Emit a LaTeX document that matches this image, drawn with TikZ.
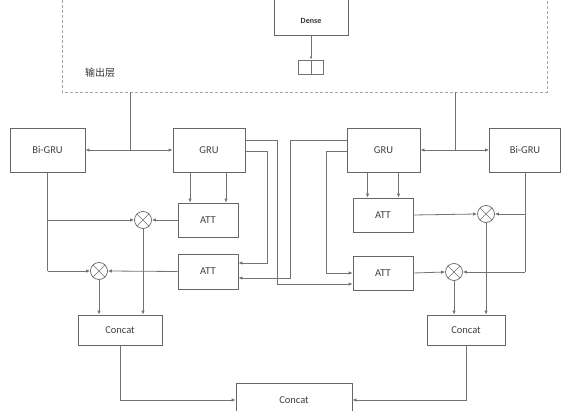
\documentclass[tikz,border=0pt]{standalone}
\usepackage{fontspec}
\setmainfont{Carlito}
\newfontfamily\cjkfont{Noto Sans CJK SC}
\usetikzlibrary{arrows.meta}
\tikzset{
  wire/.style={draw=black!55, line width=0.8pt},
  arr/.style={wire, -{Latex[length=4pt,width=3.5pt]}},
  blk/.style={draw=black!60, line width=0.8pt, fill=white, minimum width=#1, minimum height=34pt, inner sep=0pt, font=\fontsize{10.5}{12}\selectfont, text=black!75},
  mul/.style={circle, draw=black!60, line width=0.7pt, fill=white, minimum size=17pt, inner sep=0pt,
    path picture={\draw[black!55, line width=0.6pt] (path picture bounding box.north west) -- (path picture bounding box.south east)
      (path picture bounding box.north east) -- (path picture bounding box.south west);}},
  frame/.style={draw=black!35, line width=0.8pt, dash pattern=on 3pt off 2pt}
}
\begin{document}
\begin{tikzpicture}[x=1pt,y=-1pt]
    \useasboundingbox (0,0) rectangle (561,411);
    \clip (0,0) rectangle (561,411);
    \draw [frame] (62,-5) |- (547,92) -- (547,-5);
    \node [font=\cjkfont\fontsize{10}{12}\selectfont, text=black!80] (outlbl) at (100,73) {输出层};
    \node [blk=74pt, minimum height=40pt] (dense) at (311,15) {};
    \node [font=\bfseries\fontsize{8}{10}\selectfont, text=black!80] (densetxt) at ([yshift=-6pt]dense.center) {Dense};
    \node [draw=black!55, line width=0.8pt, minimum width=25pt, minimum height=14pt, inner sep=0pt] (outvec) at (311,67) {};
    \draw [arr, -{Latex[length=3pt,width=2.5pt]}] (dense.south) -- (outvec.north);
    \draw [wire] (outvec.north) -- (outvec.south);
    \coordinate (tapL) at (130,92);
    \coordinate (tapR) at (455,92);
    \node [blk=75pt, minimum height=44pt] (bigruL) at (47.5,150) {Bi-GRU};
    \node [blk=72pt, minimum height=44pt] (gruL) at (209,150) {GRU};
    \node [blk=73pt, minimum height=44pt] (gruR) at (383.5,150) {GRU};
    \node [blk=71pt, minimum height=44pt] (bigruR) at (525,150) {Bi-GRU};
    \node [blk=60pt] (attLa) at (208,220) {ATT};
    \node [blk=60pt, minimum height=35pt] (attLb) at (208,271.5) {ATT};
    \node [blk=60pt] (attRa) at (383,215) {ATT};
    \node [blk=60pt] (attRb) at (383,273) {ATT};
    \node [mul] (mulLa) at (143,220) {};
    \node [mul] (mulLb) at (99,271) {};
    \node [mul] (mulRa) at (486,214) {};
    \node [mul] (mulRb) at (454,272) {};
    \node [blk=84pt, minimum height=30pt] (catL) at (120,330) {Concat};
    \node [blk=78pt, minimum height=30pt] (catR) at (466,330) {Concat};
    \node [blk=116pt] (catB) at (294,400) {Concat};
    \coordinate (jL) at (tapL |- bigruL);
    \coordinate (jR) at (tapR |- bigruR);
    \draw [wire] (tapL) -- (jL);
    \draw [arr] (jL) -- (bigruL.east);
    \draw [arr] (jL) -- (gruL.west);
    \draw [wire] (tapR) -- (jR);
    \draw [arr] (jR) -- (gruR.east);
    \draw [arr] (jR) -- (bigruR.west);
    \draw [arr] ([xshift=-19pt]gruL.south) -- ([xshift=-19pt]gruL.south |- attLa.north);
    \draw [arr] ([xshift=17pt]gruL.south) -- ([xshift=17pt]gruL.south |- attLa.north);
    \draw [arr] ([xshift=-16pt]gruR.south) -- ([xshift=-16pt]gruR.south |- attRa.north);
    \draw [arr] ([xshift=15pt]gruR.south) -- ([xshift=15pt]gruR.south |- attRa.north);
    \draw [arr] (attLa.west) -- (mulLa.east);
    \draw [arr] (attLb.west) -- (mulLb.east);
    \draw [wire] (bigruL.south) -- (bigruL.south |- mulLb);
    \draw [arr] (bigruL.south |- mulLa) -- (mulLa.west);
    \draw [arr] (bigruL.south |- mulLb) -- (mulLb.west);
    \draw [arr] (mulLa.south) -- (mulLa.south |- catL.north);
    \draw [arr] (mulLb.south) -- (mulLb.south |- catL.north);
    \draw [arr] (attRa.east) -- (mulRa.west);
    \draw [arr] (attRb.east) -- (mulRb.west);
    \draw [wire] (bigruR.south) -- (bigruR.south |- mulRb);
    \draw [arr] (bigruR.south |- mulRa) -- (mulRa.east);
    \draw [arr] (bigruR.south |- mulRb) -- (mulRb.east);
    \draw [arr] (mulRa.south) -- (mulRa.south |- catR.north);
    \draw [arr] (mulRb.south) -- (mulRb.south |- catR.north);
    \draw [arr] ([yshift=10pt]gruL.east) -- ++(32,0) |- ([yshift=-11pt]attRb.west);
    \draw [arr] ([yshift=-1pt]gruL.east) -- ++(22,0) |- ([yshift=8.5pt]attLb.east);
    \draw [arr] ([yshift=10pt]gruR.west) -- ++(-56,0) |- ([yshift=-6.5pt]attLb.east);
    \draw [arr] ([yshift=-1pt]gruR.west) -- ++(-20,0) |- (attRb.west);
    \draw [arr] (catL.south) |- (catB.west);
    \draw [arr] (catR.south) |- (catB.east);
\end{tikzpicture}
\end{document}
